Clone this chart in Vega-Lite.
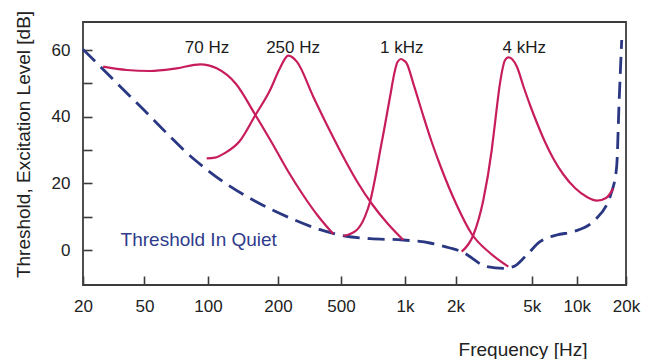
{
  "$schema": "https://vega.github.io/schema/vega-lite/v6.json",
  "width": 543,
  "height": 263,
  "autosize": {"type": "none"},
  "padding": {"left": 83, "top": 22, "right": 22, "bottom": 74},
  "background": "white",
  "config": {
    "font": "Liberation Sans",
    "view": {"stroke": "#3c3c3c", "strokeWidth": 1.8},
    "axis": {
      "grid": false,
      "domain": false,
      "tickColor": "#3c3c3c",
      "tickWidth": 1.6,
      "tickSize": -9,
      "labelFontSize": 17,
      "labelColor": "#222222",
      "titleFontSize": 19,
      "titleFontWeight": "normal",
      "titleColor": "#222222",
      "labelOverlap": false,
      "labelFlush": false,
      "labelBound": false
    }
  },
  "datasets": {
    "threshold": [
      {"freq": 20, "level": 60.2},
      {"freq": 46.8, "level": 43.2},
      {"freq": 86.8, "level": 27},
      {"freq": 118.3, "level": 20.1},
      {"freq": 159, "level": 14.7},
      {"freq": 238, "level": 9.6},
      {"freq": 369, "level": 6.1},
      {"freq": 522, "level": 4.2},
      {"freq": 685, "level": 3.4},
      {"freq": 979, "level": 3.0},
      {"freq": 1408, "level": 2.1},
      {"freq": 1852, "level": 0.6},
      {"freq": 2152, "level": -0.5},
      {"freq": 2910, "level": -5},
      {"freq": 3553, "level": -5.5},
      {"freq": 4006, "level": -5},
      {"freq": 4620, "level": -2},
      {"freq": 5682, "level": 2.5},
      {"freq": 7350, "level": 4.5},
      {"freq": 9490, "level": 5.5},
      {"freq": 12930, "level": 9},
      {"freq": 16360, "level": 17.5},
      {"freq": 17540, "level": 25},
      {"freq": 18140, "level": 44},
      {"freq": 18830, "level": 63}
    ],
    "curves": [
      {"curve": "70 Hz", "freq": 27, "level": 55},
      {"curve": "70 Hz", "freq": 38.4, "level": 54},
      {"curve": "70 Hz", "freq": 53, "level": 53.7},
      {"curve": "70 Hz", "freq": 71, "level": 54.5},
      {"curve": "70 Hz", "freq": 92, "level": 55.7},
      {"curve": "70 Hz", "freq": 109, "level": 54.5},
      {"curve": "70 Hz", "freq": 132, "level": 49.8},
      {"curve": "70 Hz", "freq": 159, "level": 40.8},
      {"curve": "70 Hz", "freq": 188.5, "level": 32.1},
      {"curve": "70 Hz", "freq": 231, "level": 23.7},
      {"curve": "70 Hz", "freq": 288, "level": 16.5},
      {"curve": "70 Hz", "freq": 358, "level": 10.2},
      {"curve": "70 Hz", "freq": 447, "level": 4.8},
      {"curve": "250 Hz", "freq": 98.6, "level": 27.5},
      {"curve": "250 Hz", "freq": 107, "level": 27.7},
      {"curve": "250 Hz", "freq": 118.3, "level": 29.1},
      {"curve": "250 Hz", "freq": 137, "level": 32.7},
      {"curve": "250 Hz", "freq": 159, "level": 40.2},
      {"curve": "250 Hz", "freq": 185, "level": 48},
      {"curve": "250 Hz", "freq": 206, "level": 54.6},
      {"curve": "250 Hz", "freq": 232, "level": 58.3},
      {"curve": "250 Hz", "freq": 263, "level": 56.5},
      {"curve": "250 Hz", "freq": 334, "level": 46},
      {"curve": "250 Hz", "freq": 426, "level": 35.7},
      {"curve": "250 Hz", "freq": 522, "level": 27},
      {"curve": "250 Hz", "freq": 601, "level": 20.1},
      {"curve": "250 Hz", "freq": 699, "level": 13.8},
      {"curve": "250 Hz", "freq": 832, "level": 7.8},
      {"curve": "250 Hz", "freq": 982, "level": 3},
      {"curve": "1 kHz", "freq": 513, "level": 4.2},
      {"curve": "1 kHz", "freq": 593, "level": 6},
      {"curve": "1 kHz", "freq": 648, "level": 10},
      {"curve": "1 kHz", "freq": 685, "level": 14.5},
      {"curve": "1 kHz", "freq": 736, "level": 24},
      {"curve": "1 kHz", "freq": 765, "level": 30},
      {"curve": "1 kHz", "freq": 797, "level": 36},
      {"curve": "1 kHz", "freq": 850, "level": 45.9},
      {"curve": "1 kHz", "freq": 898, "level": 54},
      {"curve": "1 kHz", "freq": 922, "level": 56.4},
      {"curve": "1 kHz", "freq": 958, "level": 57.3},
      {"curve": "1 kHz", "freq": 989, "level": 56.8},
      {"curve": "1 kHz", "freq": 1023, "level": 56},
      {"curve": "1 kHz", "freq": 1120, "level": 50},
      {"curve": "1 kHz", "freq": 1285, "level": 40.2},
      {"curve": "1 kHz", "freq": 1442, "level": 32.4},
      {"curve": "1 kHz", "freq": 1616, "level": 25.5},
      {"curve": "1 kHz", "freq": 2026, "level": 13.5},
      {"curve": "1 kHz", "freq": 2429, "level": 4.8},
      {"curve": "1 kHz", "freq": 3027, "level": -0.9},
      {"curve": "1 kHz", "freq": 3774, "level": -5},
      {"curve": "4 kHz", "freq": 2152, "level": -0.5},
      {"curve": "4 kHz", "freq": 2477, "level": 4.5},
      {"curve": "4 kHz", "freq": 2793, "level": 15},
      {"curve": "4 kHz", "freq": 3090, "level": 30},
      {"curve": "4 kHz", "freq": 3213, "level": 38},
      {"curve": "4 kHz", "freq": 3412, "level": 50},
      {"curve": "4 kHz", "freq": 3630, "level": 57},
      {"curve": "4 kHz", "freq": 3774, "level": 57.8},
      {"curve": "4 kHz", "freq": 3944, "level": 57.3},
      {"curve": "4 kHz", "freq": 4190, "level": 54.9},
      {"curve": "4 kHz", "freq": 4520, "level": 49.2},
      {"curve": "4 kHz", "freq": 4900, "level": 43.5},
      {"curve": "4 kHz", "freq": 5425, "level": 38.1},
      {"curve": "4 kHz", "freq": 6140, "level": 32.4},
      {"curve": "4 kHz", "freq": 6940, "level": 27.6},
      {"curve": "4 kHz", "freq": 8100, "level": 22.8},
      {"curve": "4 kHz", "freq": 9740, "level": 18.6},
      {"curve": "4 kHz", "freq": 11560, "level": 15.9},
      {"curve": "4 kHz", "freq": 13300, "level": 14.8},
      {"curve": "4 kHz", "freq": 15100, "level": 15.6},
      {"curve": "4 kHz", "freq": 16750, "level": 18.5}
    ],
    "labels": [
      {"label": "70 Hz", "freq": 98.9, "level": 59.2},
      {"label": "250 Hz", "freq": 249, "level": 59.2},
      {"label": "1 kHz", "freq": 965, "level": 59.2},
      {"label": "4 kHz", "freq": 4576, "level": 59.2}
    ],
    "notes": [
      {"label": "Threshold In Quiet", "freq": 90.4, "level": 1.2}
    ]
  },
  "encoding": {
    "x": {
      "field": "freq",
      "type": "quantitative",
      "scale": {
        "type": "log",
        "domain": [20, 50, 100, 200, 500, 1000, 2000, 5000, 10000, 20000],
        "range": [0, 61.4, 125, 195, 258, 322, 372.6, 448.7, 493.7, 543],
        "nice": false
      },
      "axis": {
        "values": [20, 50, 100, 200, 500, 1000, 2000, 5000, 10000, 20000],
        "labelExpr": "datum.value >= 1000 ? format(datum.value / 1000, 'd') + 'k' : format(datum.value, 'd')",
        "labelPadding": 22,
        "title": "Frequency [Hz]",
        "titleX": 439.5,
        "titleY": 70,
        "titleAlign": "center",
        "titleBaseline": "alphabetic"
      }
    },
    "y": {
      "field": "level",
      "type": "quantitative",
      "scale": {"domain": [-10.5, 68.4], "nice": false, "zero": false},
      "axis": {
        "values": [0, 10, 20, 30, 40, 50, 60],
        "labelExpr": "datum.value % 20 === 0 ? format(datum.value, 'd') : ''",
        "labelPadding": 22,
        "title": "Threshold, Excitation Level [dB]",
        "titleX": -53.7,
        "titleY": 122,
        "titleAngle": -90,
        "titleAlign": "center",
        "titleBaseline": "alphabetic"
      }
    }
  },
  "layer": [
    {
      "data": {"name": "threshold"},
      "mark": {"type": "line", "interpolate": "monotone", "strokeDash": [17, 8], "strokeWidth": 2.8, "color": "#2a3782"},
      "encoding": {}
    },
    {
      "data": {"name": "curves"},
      "mark": {"type": "line", "interpolate": "monotone", "strokeWidth": 2.2, "color": "#c81d5c"},
      "encoding": {"detail": {"field": "curve"}}
    },
    {
      "data": {"name": "labels"},
      "mark": {"type": "text", "fontSize": 17, "color": "#1c1c1c", "align": "center", "baseline": "alphabetic"},
      "encoding": {"text": {"field": "label"}}
    },
    {
      "data": {"name": "notes"},
      "mark": {"type": "text", "fontSize": 19, "color": "#2f3c8c", "align": "center", "baseline": "alphabetic"},
      "encoding": {"text": {"field": "label"}}
    }
  ]
}
